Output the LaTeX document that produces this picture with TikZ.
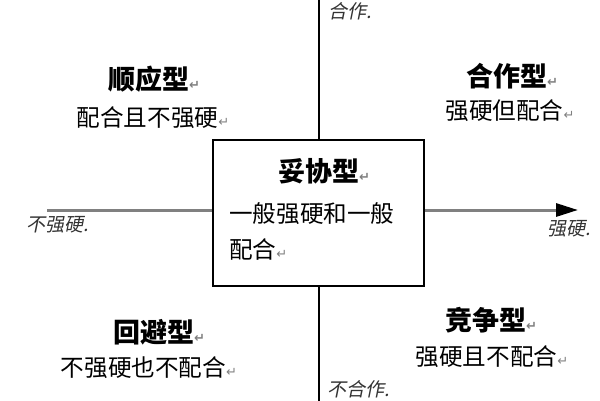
\documentclass[tikz,border=0pt]{standalone}
\usepackage{xcolor}
\usepackage{fontspec}
\setmainfont{Noto Sans CJK SC}
\newfontfamily\axisfont[FakeSlant = 0.2]{Noto Sans CJK SC}
\newfontfamily\markfont{DejaVu Sans}
\usepackage{tikz}
\usetikzlibrary{arrows.meta, positioning}
\newcommand{\ret}{{\markfont\color{gray}\fontsize{13}{13}\selectfont ↵}}
\tikzset{
  kind/.style = {inner sep = 0pt, font = \bfseries\fontsize{27}{30}\selectfont},
  trait/.style = {inner sep = 0pt, font = \fontsize{23.6}{27}\selectfont},
  pole/.style = {inner sep = 0pt, text = black!80, font = \axisfont\fontsize{19}{21}\selectfont}
}

\begin{document}
\begin{tikzpicture}[x = 1pt, y = -1pt]
\useasboundingbox (0,0) rectangle (600,400);
\coordinate (west) at (47,210);
\coordinate (east) at (578,210);
\coordinate (north) at (319,-5);
\coordinate (south) at (319,405);
\draw[line width = 2pt] (north) -- (south);
\draw[line width = 3pt, gray, -{Triangle[length = 22pt, width = 13pt, color = black]}] (west) -- (east);
\node[draw, line width = 2pt, fill = white, minimum width = 211pt, minimum height = 146pt] (box) at (318.5,213) {};
\node[pole] (weak) at (58,225) {不强硬.};
\node[pole] (strong) at (569,229) {强硬.};
\node[pole] (coop) at (350,11) {合作.};
\node[pole] (noncoop) at (359,389) {不合作.};
\node[kind] (yield) at (154,79) {顺应型\ret};
\node[trait] (yieldnote) at (153,118) {配合且不强硬\ret};
\node[kind] (partner) at (512,76) {合作型\ret};
\node[trait] (partnernote) at (510,111) {强硬但配合\ret};
\node[kind] (avoid) at (159,332) {回避型\ret};
\node[trait] (avoidnote) at (149,368) {不强硬也不配合\ret};
\node[kind] (compete) at (491,320) {竞争型\ret};
\node[trait] (competenote) at (492,357) {强硬且不配合\ret};
\node[kind] (compromise) at (324,171) {妥协型\ret};
\node[trait, anchor = west] (middle) at (229,214) {一般强硬和一般};
\node[trait, anchor = west] (middlenote) at (229,249) {配合\ret};
\end{tikzpicture}
\end{document}
